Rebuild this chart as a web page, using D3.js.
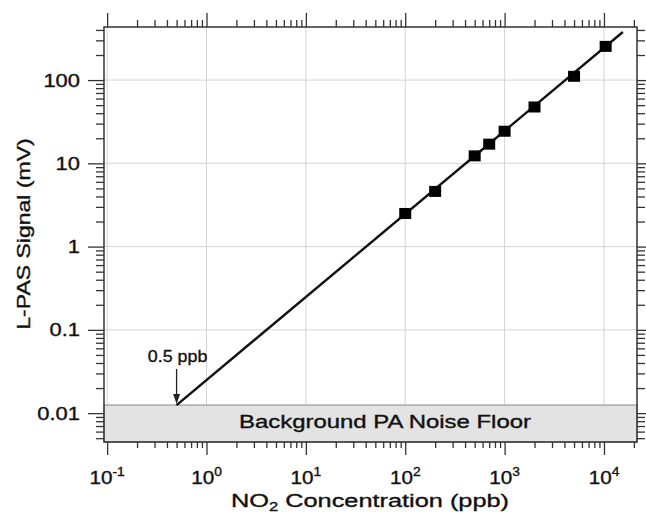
<!DOCTYPE html>
<html>
<head>
<meta charset="utf-8">
<script src="https://cdn.jsdelivr.net/npm/d3@7"></script>
<style>
  body { margin: 0; background: #fff; }
  svg text { font-family: "Liberation Sans", Arial, Helvetica, sans-serif; fill: #111; stroke: #111; stroke-width: 0.35px; }
</style>
</head>
<body>
<svg></svg>
<script>
// Data
const concentration = [100, 200, 500, 700, 1000, 2000, 5000, 10400];   // ppb
const signal = [2.5, 4.6, 12.3, 17, 24.3, 47.5, 111, 254];            // mV
const fitConcentration = [0.5, 15500];
const fitSignal = [0.0125, 378];
const noiseFloor = 0.0125;
const detectionLimit = 0.5;

const xMajor = [0.1, 1, 10, 100, 1000, 10000];
const xExponents = ["-1", "0", "1", "2", "3", "4"];
const yMajor = [0.01, 0.1, 1, 10, 100];
const yTickLabels = ["0.01", "0.1", "1", "10", "100"];

const width = 646, height = 513;
const plot = { left: 104, right: 637, top: 27, bottom: 442 };

const svg = d3.select("svg").attr("width", width).attr("height", height);

const x = d3.scaleLog().domain([0.093, 21500]).range([plot.left, plot.right]);
const y = d3.scaleLog().domain([0.0045, 434]).range([plot.bottom, plot.top]);

// minor tick positions (2..9 within each decade, clipped to domain)
function minors(scale) {
  const [a, b] = scale.domain();
  const out = [];
  for (let e = Math.floor(Math.log10(a)); e <= Math.ceil(Math.log10(b)); e++) {
    for (let m = 2; m <= 9; m++) {
      const v = m * Math.pow(10, e);
      if (v >= a && v <= b) out.push(v);
    }
  }
  return out;
}

// Grid
svg.append("g").selectAll("line").data(xMajor).join("line")
  .attr("x1", d => x(d)).attr("x2", d => x(d))
  .attr("y1", plot.top).attr("y2", plot.bottom)
  .attr("stroke", "#d4d4d4").attr("stroke-width", 1);
svg.append("g").selectAll("line").data(yMajor).join("line")
  .attr("y1", d => y(d)).attr("y2", d => y(d))
  .attr("x1", plot.left).attr("x2", plot.right)
  .attr("stroke", "#d4d4d4").attr("stroke-width", 1);

// Noise floor band
svg.append("rect")
  .attr("x", plot.left).attr("y", y(noiseFloor))
  .attr("width", plot.right - plot.left)
  .attr("height", plot.bottom - y(noiseFloor))
  .attr("fill", "#e3e3e3")
  .attr("stroke", "#9a9a9a").attr("stroke-width", 1.2);

svg.append("text")
  .attr("transform", `translate(385,428) scale(1.33,1)`)
  .attr("text-anchor", "middle")
  .style("font-size", "18px")
  .text("Background PA Noise Floor");

// Axes
function tickAxis(axisFn, transform, values, size) {
  svg.append("g")
    .attr("transform", transform)
    .call(axisFn.tickValues(values).tickSize(size).tickFormat(""))
    .call(g => g.select(".domain").remove())
    .call(g => g.selectAll(".tick line").attr("stroke", "#333").attr("stroke-width", 1.3));
}
tickAxis(d3.axisLeft(y), `translate(${plot.left},0)`, yMajor, 16);
tickAxis(d3.axisLeft(y), `translate(${plot.left},0)`, minors(y), 8);
tickAxis(d3.axisRight(y), `translate(${plot.right},0)`, yMajor, 16);
tickAxis(d3.axisRight(y), `translate(${plot.right},0)`, minors(y), 8);
tickAxis(d3.axisTop(x), `translate(0,${plot.top})`, xMajor, 14);
tickAxis(d3.axisTop(x), `translate(0,${plot.top})`, minors(x), 7);
tickAxis(d3.axisBottom(x), `translate(0,${plot.bottom})`, xMajor, 13);
tickAxis(d3.axisBottom(x), `translate(0,${plot.bottom})`, minors(x), 6);

// Frame
svg.append("rect")
  .attr("x", plot.left).attr("y", plot.top)
  .attr("width", plot.right - plot.left).attr("height", plot.bottom - plot.top)
  .attr("fill", "none").attr("stroke", "#333").attr("stroke-width", 1.5);

// Y tick labels
svg.append("g").selectAll("text").data(yMajor).join("text")
  .attr("transform", d => `translate(${plot.left - 24},${y(d) + 6.5}) scale(1.22,1)`)
  .attr("text-anchor", "end")
  .style("font-size", "18px")
  .text((d, i) => yTickLabels[i]);

// X tick labels (powers of ten)
const xl = svg.append("g").selectAll("text").data(xMajor).join("text")
  .attr("transform", d => `translate(${x(d)},484) scale(1.15,1)`)
  .attr("text-anchor", "middle")
  .style("font-size", "18px");
xl.append("tspan").text("10");
xl.append("tspan").attr("dy", -8).style("font-size", "12px").text((d, i) => xExponents[i]);

// Axis titles
const xt = svg.append("text")
  .attr("transform", "translate(370,507) scale(1.37,1)")
  .attr("text-anchor", "middle")
  .style("font-size", "18.5px");
xt.append("tspan").text("NO");
xt.append("tspan").attr("dy", 4).style("font-size", "12px").text("2");
xt.append("tspan").attr("dy", -4).text(" Concentration (ppb)");

svg.append("text")
  .attr("transform", "translate(30,234) rotate(-90) scale(1.28,1)")
  .attr("text-anchor", "middle")
  .style("font-size", "18px")
  .text("L-PAS Signal (mV)");

// Fit line
svg.append("path")
  .datum(fitConcentration.map((c, i) => [c, fitSignal[i]]))
  .attr("d", d3.line().x(d => x(d[0])).y(d => y(d[1])))
  .attr("fill", "none").attr("stroke", "#111").attr("stroke-width", 2.4);

// Data squares
svg.append("g").selectAll("rect").data(concentration).join("rect")
  .attr("x", d => x(d) - 6)
  .attr("y", (d, i) => y(signal[i]) - 5.5)
  .attr("width", 12).attr("height", 11)
  .attr("fill", "#000");

// Detection-limit annotation
const ax = x(detectionLimit);
svg.append("line")
  .attr("x1", ax).attr("x2", ax)
  .attr("y1", 369).attr("y2", y(noiseFloor) - 9)
  .attr("stroke", "#222").attr("stroke-width", 1.3);
svg.append("path")
  .attr("d", `M${ax - 3.5},${y(noiseFloor) - 11} L${ax + 3.5},${y(noiseFloor) - 11} L${ax},${y(noiseFloor) - 1} Z`)
  .attr("fill", "#222");
svg.append("text")
  .attr("transform", `translate(${ax + 1},362) scale(1.05,1)`)
  .attr("text-anchor", "middle")
  .style("font-size", "17px")
  .text("0.5 ppb");
</script>
</body>
</html>
